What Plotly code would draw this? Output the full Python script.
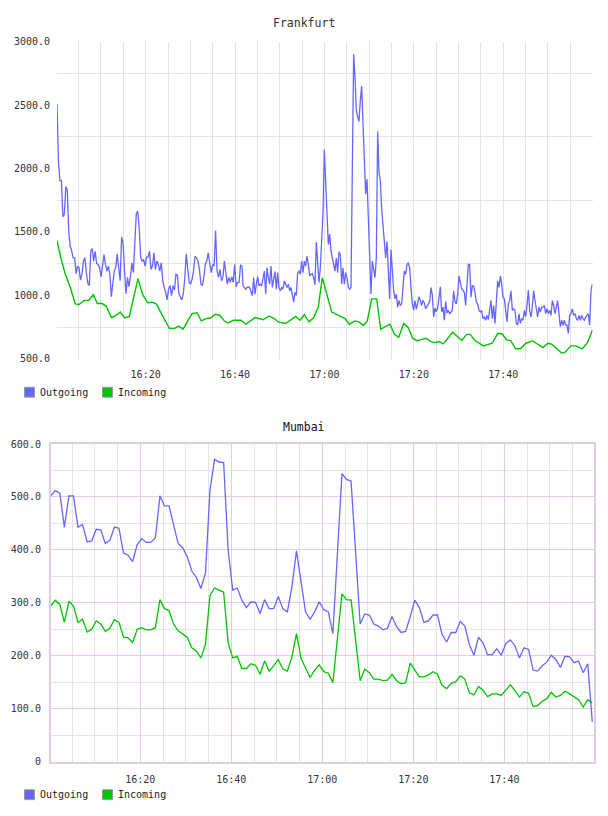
import numpy as np
import pandas as pd
import plotly.graph_objects as go

# ---------------- DATA ----------------
# Frankfurt outgoing, three sampled chunks (minutes after 16:00:10 of first/last sample)
fra_out_a = [2510, 2050, 1905, 1905, 1620, 1640, 1858, 1830, 1503, 1387, 1350, 1296,
             1296, 1171, 1231, 1218, 1120, 1167, 1270, 1296, 1180, 1094,
             1076, 1348, 1369, 1270, 1348, 1250, 1244, 1218, 1145, 1218,
             1322, 1244, 1192, 1231, 1167, 990, 1115, 1192, 1218, 1327,
             1218, 1115, 1459, 1413, 1192, 1011, 1141, 1068, 1145, 1257,
             1180, 1400, 1646, 1664, 1529, 1296, 1270, 1283, 1231, 1301,
             1301, 1348, 1205, 1231, 1335, 1205, 1270, 1244, 1192, 1257,
             1115, 1063, 1024, 964, 1050, 1076, 998, 1076, 1042, 1167,
             1162, 1011, 980, 964, 1011, 1128, 1327, 1180, 1102, 1089,
             1128, 1192, 1309, 1296, 1270, 1205, 1089, 1076, 1141, 1244,
             1270, 1335, 1231, 1180, 1244, 1231, 1511, 1192, 1141, 1205,
             1115, 1145, 1270, 1167, 1089, 1141, 1102, 1145, 1102, 1244,
             1068, 1102, 1102, 1239, 1231]
fra_out_b = [1075, 1062, 1049, 1062, 1067, 1060, 1036, 998, 1140, 1010,
             1088, 1148, 1075, 1088, 1075, 1140, 1192, 1010, 1218, 1140,
             1088, 1231, 1062, 1127, 1187, 1049, 1179, 1062, 1036, 1062,
             1049, 1114, 1080, 1062, 1088, 1036, 1062, 1000, 946, 1023,
             998, 1179, 1192, 1166, 1270, 1179, 1270, 1231, 1309, 1244,
             1153, 1166, 1171, 1140, 1083, 1420, 1244, 1101, 1218, 1400,
             1650, 2151, 1900, 1607,
             1400, 1483, 1348, 1296, 1244, 1192, 1296, 1179, 1343, 1322,
             1088, 1218, 1088, 1179, 1140, 1062, 1049, 1062, 2000, 2903,
             2722, 2462, 2410, 2372, 2540, 2652, 2359, 1996, 1801, 1918,
             1633, 1296, 1010, 1270, 1218, 1140, 1296, 2294, 1970, 1905,
             1685, 1529, 1400, 1296, 1426, 1244, 972, 1361, 1192, 1036,
             972, 1010, 907, 959, 920, 933, 1062, 1192, 1166, 1244,
             1257, 1218, 1062, 933, 881]
fra_out_c = [959, 890, 950, 990, 960, 920, 960, 940, 894, 920,
             933, 950, 1062, 1000, 829, 900, 870, 900, 1000, 1067,
             870, 907, 803, 950, 860, 881, 855, 868, 881, 1036,
             946, 933, 1010, 1153, 1101, 1049, 1041, 1023, 920, 1101,
             1244, 1244, 985, 1075, 1075, 1023, 946, 933, 881, 868,
             881, 816, 829, 803, 842, 808, 881, 959, 816, 920,
             778, 985, 1114, 1062, 1153, 1088, 985, 972, 894, 790,
             933, 959, 1036, 881, 894, 881, 778, 764, 855, 778,
             816, 803, 881, 829, 920, 1041, 881, 829, 907, 1036,
             959, 907, 829, 907, 868, 907, 907, 920, 855, 894,
             855, 881, 842, 959, 920, 855, 907, 959, 855, 752,
             803, 764, 803, 764, 764, 700, 842, 855, 894, 842,
             855, 816, 803, 842, 803, 842, 816, 803, 829, 842,
             855, 764, 1036, 1088]
fra_out_chunks = [fra_out_a, fra_out_b, fra_out_c]
fra_out_spans = [(0.0, 41.39), (41.61, 79.79), (80.09, 119.76)]

# Frankfurt incoming (minutes after 16:00:10, value)
fra_in_min = [0, 0.9, 1.86, 2.98, 4.09, 4.92, 6.1, 7.09, 8.12, 9.02, 10.07, 11.03, 12.15,
              13.04, 14.16, 15.15, 16.17, 18.12, 19.17, 20.29, 21.25, 22.21, 25.12,
              26.33, 27.23, 28.19, 30.2, 31.32, 32.28, 33.33, 34.3, 35.41, 36.31,
              37.52, 38.26, 39.53, 41.16, 42.28, 44.3, 46.15, 47.43, 48.61, 49.51,
              51.16, 53.4, 54.36, 55.32, 56.38, 57.43, 58.46, 59.35, 61.45, 64.43,
              65.39, 66.67, 67.56, 68.52, 69.42, 70.4, 71.52, 72.42, 74.5, 75.46,
              76.44, 77.56, 78.59, 79.58, 80.47, 81.2, 82.55, 83.67, 84.56, 85.46,
              86.42, 88.52, 90.54, 91.66, 92.46, 93.51, 95.37, 97.38, 98.59, 99.62,
              100.6, 101.5, 102.6, 103.7, 104.9, 106.4, 108.7, 109.8, 110.7, 112.9,
              113.6, 115.0, 116.1, 117.5, 118.6, 119.8]
fra_in_val = [1433, 1290, 1166, 1062, 933, 928, 959, 959, 1005, 935, 935, 915, 825,
              838, 868, 821, 834, 1132, 1005, 941, 946, 933, 739,
              739, 757, 733, 855, 863, 798, 816, 821, 850, 845,
              795, 782, 803, 803, 772, 824, 808, 837, 816, 790,
              778, 834, 803, 847, 790, 824, 907, 1140, 868, 816,
              772, 798, 790, 762, 798, 972, 972, 733, 772, 694,
              669, 778, 744, 661, 642, 648, 661, 635, 627, 635,
              617, 708, 643, 692, 692, 643, 601, 622, 700, 695,
              648, 643, 578, 578, 622, 640, 588, 622, 614, 544,
              549, 601, 601, 578, 622, 726]

# Mumbai, one sample per minute starting 16:00:19
mum_out = [502, 512, 507, 443, 502, 502, 443, 448, 415, 417,
           439, 438, 412, 418, 443, 441, 394, 390, 378, 410,
           421, 414, 414, 423, 502, 483, 483, 445, 412, 404,
           387, 360, 348, 327, 356, 513, 571, 566, 565, 398,
           324, 328, 305, 291, 302, 301, 280, 306, 289, 289,
           312, 289, 283, 330, 398, 340, 283, 269, 283, 302,
           287, 283, 242, 393, 544, 533, 530, 395, 260, 279,
           277, 260, 256, 249, 252, 274, 255, 244, 246, 274,
           305, 291, 263, 266, 277, 277, 240, 226, 244, 244,
           265, 256, 221, 201, 235, 224, 202, 202, 213, 201,
           223, 230, 219, 196, 215, 212, 173, 171, 181, 188,
           201, 193, 178, 199, 198, 187, 190, 168, 185, 75]
mum_in = [294, 305, 297, 263, 303, 294, 263, 269, 245, 250,
          266, 260, 246, 252, 268, 263, 235, 234, 225, 250,
          253, 249, 249, 253, 306, 289, 285, 260, 247, 241,
          235, 215, 209, 196, 221, 314, 328, 324, 320, 224,
          196, 199, 176, 176, 185, 182, 165, 190, 171, 181,
          193, 175, 171, 198, 242, 195, 178, 159, 173, 183,
          170, 167, 149, 233, 317, 306, 305, 230, 153, 175,
          168, 156, 156, 153, 154, 165, 153, 147, 149, 186,
          173, 160, 160, 164, 170, 165, 144, 138, 148, 151,
          162, 156, 130, 126, 142, 135, 123, 128, 128, 125,
          135, 145, 134, 122, 132, 129, 104, 106, 114, 119,
          131, 122, 125, 133, 128, 122, 117, 103, 117, 111]

x_tick_vals = ["2024-01-01 16:20", "2024-01-01 16:40", "2024-01-01 17:00",
               "2024-01-01 17:20", "2024-01-01 17:40"]
x_tick_text = ["16:20", "16:40", "17:00", "17:20", "17:40"]
fra_y_ticks = [500, 1000, 1500, 2000, 2500, 3000]
fra_y_text = ["500.0", "1000.0", "1500.0", "2000.0", "2500.0", "3000.0"]
fra_y_minor = [750, 1250, 1750, 2250, 2750]
mum_y_ticks = [0, 100, 200, 300, 400, 500, 600]
mum_y_text = ["0", "100.0", "200.0", "300.0", "400.0", "500.0", "600.0"]
mum_y_minor = [50, 150, 250, 350, 450, 550]
series_names = ["Outgoing", "Incoming"]

# ---------------- BUILD ----------------
BLUE = "#6666ff"
GREEN = "#00c400"
W, H = 608, 816
FONT = "DejaVu Sans Mono"

fra_base = pd.Timestamp("2024-01-01 16:00:10")
mum_base = pd.Timestamp("2024-01-01 16:00:19")

fra_out_min = np.concatenate([np.linspace(s, e, len(v)) for (s, e), v in zip(fra_out_spans, fra_out_chunks)])
fra_out_val = np.concatenate([np.array(v, dtype=float) for v in fra_out_chunks])
fra_out_t = fra_base + pd.to_timedelta(fra_out_min, unit="m")
fra_in_t = fra_base + pd.to_timedelta(np.array(fra_in_min), unit="m")
mum_t = mum_base + pd.to_timedelta(np.arange(len(mum_out)), unit="m")


def px(x):
    return x / W


def py(y):
    return 1 - y / H


fig = go.Figure()
fig.add_trace(go.Scatter(x=fra_out_t, y=fra_out_val, mode="lines", name=series_names[0],
                         line=dict(color=BLUE, width=1.3), xaxis="x", yaxis="y"))
fig.add_trace(go.Scatter(x=fra_in_t, y=fra_in_val, mode="lines", name=series_names[1],
                         line=dict(color=GREEN, width=1.4), xaxis="x", yaxis="y"))
fig.add_trace(go.Scatter(x=mum_t, y=mum_out, mode="lines", name=series_names[0],
                         line=dict(color=BLUE, width=1.3), xaxis="x2", yaxis="y2"))
fig.add_trace(go.Scatter(x=mum_t, y=mum_in, mode="lines", name=series_names[1],
                         line=dict(color=GREEN, width=1.3), xaxis="x2", yaxis="y2"))

tickfont = dict(family=FONT, size=10, color="#333")
GRAY = "#e4e4e4"
PURPLE = "#e2cbe4"

fig.update_layout(
    width=W, height=H, margin=dict(l=0, r=0, t=0, b=0),
    paper_bgcolor="white", plot_bgcolor="white", showlegend=False,
    font=dict(family=FONT, size=10, color="#333"),
    xaxis=dict(domain=[px(57), px(592.5)], anchor="y", type="date",
               range=["2024-01-01 16:00:10", "2024-01-01 17:59:58"],
               tickmode="array", tickvals=x_tick_vals, ticktext=x_tick_text,
               showgrid=True, gridcolor=GRAY, gridwidth=1, ticks="", ticklabelstandoff=8,
               tickfont=tickfont, showline=False, zeroline=False,
               minor=dict(tick0="2024-01-01 16:00", dtick=300000, showgrid=True,
                          gridcolor=GRAY, gridwidth=1)),
    yaxis=dict(domain=[py(358.5), py(37.5)], anchor="x", range=[500, 3000],
               tickmode="array", tickvals=fra_y_ticks, ticktext=fra_y_text,
               showgrid=False, ticks="", ticklabelstandoff=6, tickfont=tickfont,
               showline=False, zeroline=False,
               minor=dict(tickmode="array", tickvals=fra_y_minor, showgrid=True,
                          gridcolor=GRAY, gridwidth=1)),
    xaxis2=dict(domain=[px(50.7), px(594.1)], anchor="y2", type="date",
                range=["2024-01-01 16:00:19", "2024-01-01 17:59:43"],
                tickmode="array", tickvals=x_tick_vals, ticktext=x_tick_text,
                showgrid=True, gridcolor=PURPLE, gridwidth=1, ticks="", ticklabelstandoff=8,
                tickfont=tickfont, showline=True, mirror=True, linecolor=PURPLE, linewidth=1.5,
                zeroline=False,
                minor=dict(tick0="2024-01-01 16:00", dtick=300000, showgrid=True,
                           gridcolor=GRAY, gridwidth=1)),
    yaxis2=dict(domain=[py(767), py(445)], anchor="x2", range=[0, 600],
                tickmode="array", tickvals=mum_y_ticks, ticktext=mum_y_text,
                showgrid=True, gridcolor=PURPLE, gridwidth=1, ticks="", ticklabelstandoff=6,
                tickfont=tickfont, showline=True, mirror=True, linecolor=PURPLE, linewidth=1.5,
                zeroline=False,
                minor=dict(tickmode="array", tickvals=mum_y_minor, showgrid=True,
                           gridcolor=GRAY, gridwidth=1)),
)

annotations = [
    dict(text="Frankfurt", x=0.5, y=py(18), xref="paper", yref="paper", showarrow=False,
         xanchor="center", yanchor="middle", font=dict(family=FONT, size=11.5, color="#333")),
    dict(text="Mumbai", x=0.5, y=py(428), xref="paper", yref="paper", showarrow=False,
         xanchor="center", yanchor="middle", font=dict(family=FONT, size=11.5, color="#111")),
]
shapes = []
for ly in (392.5, 800.5):
    for (sx, tx), col, name in zip([(24.5, 38), (102.5, 116)], [BLUE, GREEN], series_names):
        shapes.append(dict(type="rect", xref="paper", yref="paper",
                           x0=px(sx), x1=px(sx + 10), y0=py(ly - 5), y1=py(ly + 5),
                           fillcolor=col, line=dict(color="#999999", width=1)))
        annotations.append(dict(text=name, x=px(tx), y=py(ly), xref="paper", yref="paper",
                                showarrow=False, xanchor="left", yanchor="middle",
                                font=dict(family=FONT, size=10, color="#222")))
fig.update_layout(annotations=annotations, shapes=shapes)

fig.write_html("out.html")
